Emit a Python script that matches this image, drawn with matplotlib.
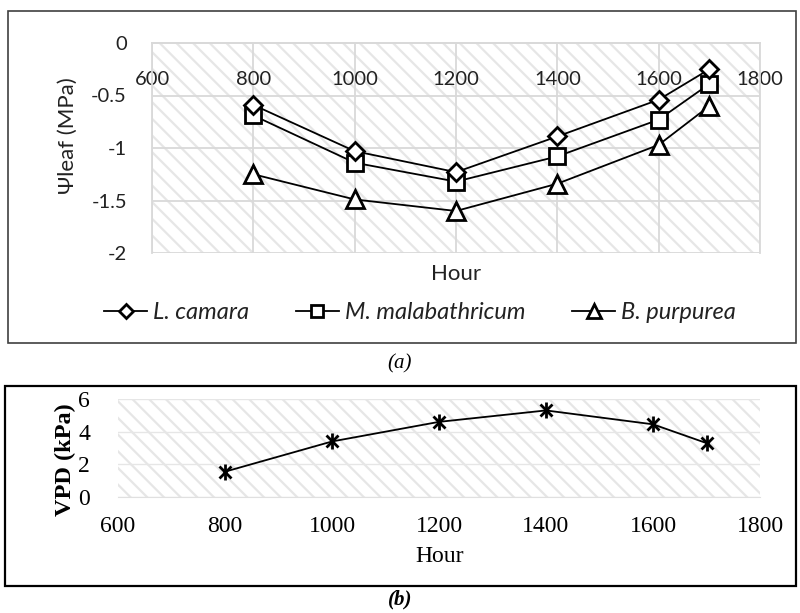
import matplotlib
matplotlib.use('Agg')
import matplotlib.pyplot as plt
from matplotlib.patches import Rectangle

# data
hours = [800, 1000, 1200, 1400, 1600, 1700]
l_camara = [-0.59, -1.03, -1.23, -0.89, -0.54, -0.25]
m_malabathricum = [-0.69, -1.14, -1.32, -1.08, -0.73, -0.39]
b_purpurea = [-1.25, -1.49, -1.60, -1.34, -0.97, -0.60]
vpd = [1.55, 3.4, 4.6, 5.3, 4.45, 3.3]

x_ticks = [600, 800, 1000, 1200, 1400, 1600, 1800]
psi_ticks = [0, -0.5, -1, -1.5, -2]
psi_labels = ['0', '-0.5', '-1', '-1.5', '-2']
vpd_ticks = [0, 2, 4, 6]

plt.rcParams['hatch.linewidth'] = 1.6
W, H = 800, 613
fig = plt.figure(figsize=(8, 6.13), dpi=100)

def fx(px):
    return px / W

def fy(py):
    return 1 - py / H

# outer boxes
fig.add_artist(Rectangle((fx(8), fy(343)), fx(788), (343 - 11) / H, transform=fig.transFigure,
                         fill=False, edgecolor='#404040', lw=1.2))
fig.add_artist(Rectangle((fx(5), fy(586)), fx(791), (586 - 386) / H, transform=fig.transFigure,
                         fill=False, edgecolor='black', lw=1.6))

grid_col = '#d9d9d9'
hatch_col = '#e6e6e6'

# ---- panel (a)
ax1 = fig.add_axes([fx(152), fy(253), fx(760 - 152), (253 - 43) / H])
ax1.add_patch(Rectangle((0, 0), 1, 1, transform=ax1.transAxes, facecolor='white',
                        edgecolor=hatch_col, lw=0, hatch='\\\\', zorder=0))
ax1.plot(hours, l_camara, color='black', lw=1.3, marker='D', markersize=9,
         mfc='white', mec='black', mew=2, label='L. camara', zorder=5)
ax1.plot(hours, m_malabathricum, color='black', lw=1.3, marker='s', markersize=12,
         mfc='white', mec='black', mew=2, label='M. malabathricum', zorder=4)
ax1.plot(hours, b_purpurea, color='black', lw=1.3, marker='^', markersize=13,
         mfc='white', mec='black', mew=2, label='B. purpurea', zorder=3)
ax1.set_xlim(600, 1800)
ax1.set_ylim(-2, 0)
ax1.set_xticks(x_ticks)
ax1.set_yticks(psi_ticks)
ax1.set_yticklabels(psi_labels)
ax1.grid(True, color=grid_col, lw=1.3, zorder=1)
ax1.set_axisbelow(True)
for s in ax1.spines.values():
    s.set_color(grid_col)
    s.set_linewidth(1.3)
ax1.spines['bottom'].set_position(('data', 0))
ax1.tick_params(axis='x', length=0, pad=20, labelsize=14.5)
ax1.tick_params(axis='y', length=0, pad=18, labelsize=14.5)
for t in ax1.get_xticklabels() + ax1.get_yticklabels():
    t.set_fontfamily('Lato')
    t.set_color('#222222')
fig.text(fx(68), fy(136), 'Ψleaf (MPa)', rotation=90, ha='center', va='center',
         fontsize=16, family='Lato', color='#222222')
fig.text(fx(456), fy(274), 'Hour', ha='center', va='center', fontsize=16,
         family='Lato', color='#222222')
leg = fig.legend(loc='center', bbox_to_anchor=(fx(420), fy(313)), ncol=3, frameon=False,
                 prop={'family': 'Lato', 'style': 'italic', 'size': 17},
                 handlelength=1.8, columnspacing=2.0, handletextpad=0.25, markerscale=0.75)
for t in leg.get_texts():
    t.set_color('#222222')

fig.text(0.5, fy(364), '(a)', ha='center', va='center', fontsize=15,
         family='Liberation Serif', style='italic')

# ---- panel (b)
ax2 = fig.add_axes([fx(118), fy(497), fx(760 - 118), (497 - 399) / H])
ax2.add_patch(Rectangle((0, 0), 1, 1, transform=ax2.transAxes, facecolor='white',
                        edgecolor=hatch_col, lw=0, hatch='\\\\', zorder=0))
ax2.plot(hours, vpd, color='black', lw=1.3, zorder=3)
ax2.plot(hours, vpd, ls='none', marker='x', markersize=9, mec='black', mew=2, zorder=4)
ax2.plot(hours, vpd, ls='none', marker='|', markersize=12, mec='black', mew=2, zorder=4)
ax2.set_xlim(600, 1800)
ax2.set_ylim(0, 6)
ax2.set_xticks(x_ticks)
ax2.set_yticks(vpd_ticks)
ax2.grid(True, axis='y', color='#e6e6e6', lw=1.0, zorder=1)
ax2.set_axisbelow(True)
for s in ax2.spines.values():
    s.set_visible(False)
ax2.spines['bottom'].set_visible(True)
ax2.spines['bottom'].set_color('#e0e0e0')
ax2.tick_params(axis='x', length=0, pad=14, labelsize=17)
ax2.tick_params(axis='y', length=0, pad=20, labelsize=17)
for t in ax2.get_xticklabels() + ax2.get_yticklabels():
    t.set_fontfamily('Liberation Serif')
fig.text(fx(65), fy(460), 'VPD (kPa)', rotation=90, ha='center', va='center',
         fontsize=17.5, family='Liberation Serif', weight='bold')
fig.text(fx(440), fy(556), 'Hour', ha='center', va='center', fontsize=17,
         family='Liberation Serif')
fig.text(0.5, fy(599), '(b)', ha='center', va='center', fontsize=15,
         family='Liberation Serif', style='italic', weight='bold')

fig.savefig('out.png', dpi=100)
